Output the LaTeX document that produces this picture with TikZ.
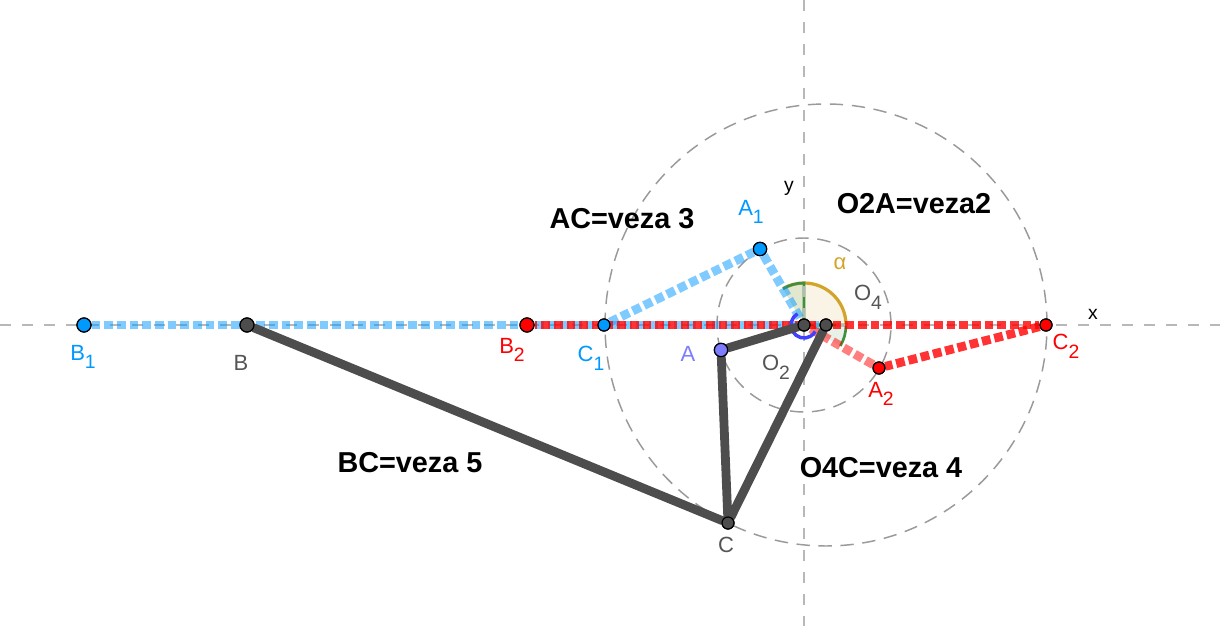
\documentclass[tikz,border=0pt]{standalone}
\usepackage{fontspec}
\setmainfont{Liberation Sans}
\newcommand{\subidx}[1]{\raisebox{-0.4em}{\fontsize{14.5}{14.5}\selectfont #1}}
\definecolor{linkdark}{HTML}{4D4D4D}
\definecolor{ptblue}{HTML}{0099FF}
\definecolor{ptviolet}{HTML}{7D7DFF}
\definecolor{axisgray}{HTML}{B8B8B8}
\definecolor{circgray}{HTML}{9A9A9A}
\definecolor{labgray}{HTML}{555555}
\definecolor{anglegold}{HTML}{D2A52A}
\definecolor{anglegreen}{HTML}{3F8F3F}
\tikzset{
  x=0.75pt,y=0.75pt,
  axisline/.style={draw=axisgray,line width=1.1pt,dash pattern=on 8.25pt off 8.25pt},
  guidecircle/.style={draw=circgray,line width=1.1pt,dash pattern=on 10pt off 6.5pt},
  linkbar/.style={draw=linkdark,line width=6.6pt,line cap=round,line join=round},
  bluebar/.style={draw=ptblue,draw opacity=0.5,line width=6.6pt,dash pattern=on 6.6pt off 2.9pt},
  redbar/.style={draw=red,draw opacity=0.8,line width=6.6pt,dash pattern=on 6.6pt off 2.9pt},
  redfaint/.style={draw=red,draw opacity=0.5,line width=6.6pt,dash pattern=on 6.6pt off 2.9pt},
  pt/.style={circle,draw=black,line width=0.9pt,inner sep=0pt,minimum size=#1},
  pt/.default=9pt,
  lab/.style={font=\fontsize{16.5}{16.5}\selectfont,inner sep=0pt},
  bigtxt/.style={font=\fontsize{21.6}{21.6}\selectfont\bfseries,text=black,inner sep=0pt},
}
\begin{document}
\begin{tikzpicture}
\useasboundingbox (0,0) rectangle (1220,626);
\fill[white] (0,0) rectangle (1220,626);
% point positions
\coordinate (pO2) at (804,301);
\coordinate (pO4) at (826,301);
% angle sectors
\fill[anglegold,fill opacity=0.12] (pO2) -- ++(0:42) arc[start angle=0,end angle=120,radius=31.5pt] -- cycle;
\fill[anglegreen,fill opacity=0.12] (pO2) -- ++(90:42) arc[start angle=90,end angle=120,radius=31.5pt] -- cycle;
\fill[anglegreen,fill opacity=0.12] (pO2) -- ++(-30:42) arc[start angle=-30,end angle=0,radius=31.5pt] -- cycle;
\draw[anglegold,line width=2.4pt] (pO2) ++(0:42) arc[start angle=0,end angle=120,radius=31.5pt];
\draw[anglegreen,line width=2pt] (pO2) ++(-30:42) arc[start angle=-30,end angle=0,radius=31.5pt] -- (pO2) -- ++(90:42) arc[start angle=90,end angle=120,radius=31.5pt];
% guides
\draw[axisline] (0,301) -- (1220,301);
\draw[axisline] (804,626) -- (804,0);
\draw[guidecircle] (pO4) circle[radius=165.75pt];
\draw[guidecircle] (pO2) circle[radius=65.25pt];
% points
\node[pt=10.5pt,fill=ptblue] (B1) at (84,301) {};
\node[pt=10.5pt,fill=linkdark] (B) at (247,301) {};
\node[pt=10.5pt,fill=red] (B2) at (527,301) {};
\node[pt=9pt,fill=ptblue] (C1) at (604,301) {};
\node[pt=10pt,fill=ptblue] (A1) at (760,377) {};
\node[pt=10pt,fill=ptviolet] (A) at (721,276) {};
\node[pt=9pt,fill=red] (A2) at (879,258) {};
\node[pt=9pt,fill=red] (C2) at (1046,301) {};
\node[pt=9pt,fill=linkdark] (C) at (728,103) {};
\node[pt=9pt,fill=linkdark] (O2) at (pO2) {};
\node[pt=9pt,fill=linkdark] (O4) at (pO4) {};
% mechanism positions
\draw[bluebar] (B1) -- (O4);
\draw[bluebar] (C1) -- (A1);
\draw[bluebar] (A1) -- (O2);
\draw[redbar,dash phase=4.5pt] (B2) -- (C2);
\draw[redbar] (C2) -- (A2);
\draw[redfaint] (A2) -- (O2);
\draw[blue!75!white,line width=2.6pt] (pO2) ++(120:13) arc[start angle=120,end angle=330,radius=9.75pt];
\draw[linkbar] (B) -- (C);
\draw[linkbar] (O2) -- (A) -- (C) -- (O4);
% points again on top of the bars
\node[pt=10.5pt,fill=ptblue] at (B1) {};
\node[pt=10.5pt,fill=linkdark] at (B) {};
\node[pt=10.5pt,fill=red] at (B2) {};
\node[pt=9pt,fill=ptblue] at (C1) {};
\node[pt=10pt,fill=ptblue] at (A1) {};
\node[pt=10pt,fill=ptviolet] at (A) {};
\node[pt=9pt,fill=red] at (A2) {};
\node[pt=9pt,fill=red] at (C2) {};
\node[pt=9pt,fill=linkdark] at (C) {};
\node[pt=9pt,fill=linkdark] at (O2) {};
\node[pt=9pt,fill=linkdark] at (O4) {};
% labels
\node[lab,text=ptblue] (lA1) at (751,414) {A\subidx{1}};
\node[lab,text=ptblue] (lB1) at (83,269) {B\subidx{1}};
\node[lab,text=ptblue] (lC1) at (591,268) {C\subidx{1}};
\node[lab,text=red] (lB2) at (512,276) {B\subidx{2}};
\node[lab,text=red] (lA2) at (881,232) {A\subidx{2}};
\node[lab,text=red] (lC2) at (1066,280) {C\subidx{2}};
\node[lab,text=labgray] (lO4) at (868,329) {O\subidx{4}};
\node[lab,text=labgray] (lO2) at (776,259) {O\subidx{2}};
\node[lab,text=labgray] (lB) at (241,263) {B};
\node[lab,text=labgray] (lC) at (726,81) {C};
\node[lab,text=ptviolet] (lA) at (688,272) {A};
\node[lab,text=anglegold] (lalpha) at (840,362) {α};
\node[font=\fontsize{14.5}{14.5}\selectfont,inner sep=0pt] (lx) at (1093,312) {x};
\node[font=\fontsize{14.5}{14.5}\selectfont,inner sep=0pt] (ly) at (789,438) {y};
\node[bigtxt] (t1) at (622,407) {AC=veza 3};
\node[bigtxt] (t2) at (914,422) {O2A=veza2};
\node[bigtxt] (t3) at (410,163) {BC=veza 5};
\node[bigtxt] (t4) at (881,158) {O4C=veza 4};
\end{tikzpicture}
\end{document}
